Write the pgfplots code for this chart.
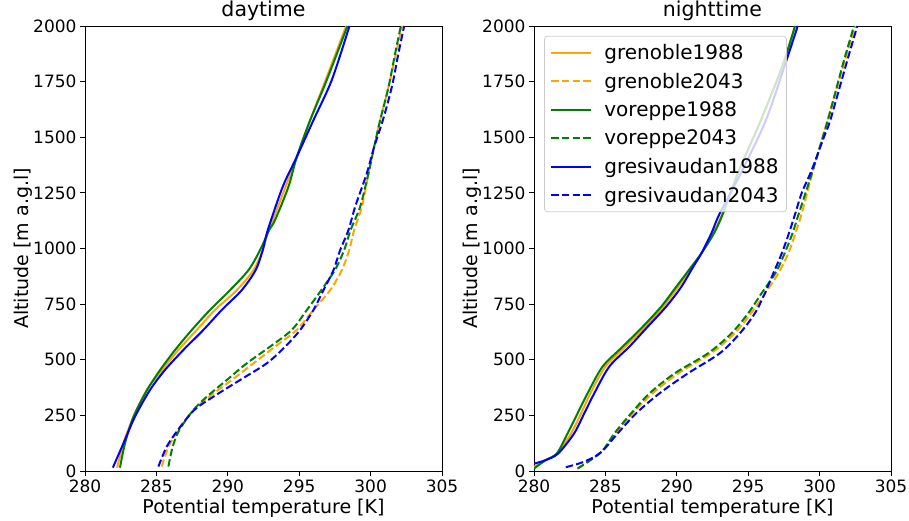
\documentclass[border=0pt]{standalone}
\usepackage{fontspec}
\setmainfont{DejaVu Sans}
\usepackage{pgfplots}
\pgfplotsset{compat=1.18}

\definecolor{mplorange}{RGB}{255,165,0}
\definecolor{mplgreen}{RGB}{0,128,0}
\definecolor{mplblue}{RGB}{0,0,255}

\pgfplotsset{
  profile/.style={
    scale only axis, width=357pt, height=445pt,
    xmin=280, xmax=305, ymin=0, ymax=2000,
    xtick={280,285,...,305}, ytick={0,250,...,2000},
    tick pos=left, tick align=outside, major tick length=5pt,
    every tick/.style={black, line width=0.8pt},
    axis line style={black, line width=0.8pt},
    /pgf/number format/set thousands separator={},
    /pgf/number format/assume math mode=true,
    ticklabel style={font=\fontsize{17}{20}\selectfont},
    label style={font=\fontsize{19}{22}\selectfont},
    title style={font=\fontsize{20.5}{24}\selectfont, yshift=-4pt},
    xlabel={Potential temperature [K]},
    ylabel={Altitude [m a.g.l]},
    ylabel shift=-6pt,
    every axis plot/.append style={line width=2pt, smooth, tension=0.5},
    legend image code/.code={\draw[#1] (0pt,0pt) -- (40pt,0pt);},
  },
  dsh/.style={dash pattern=on 7.4pt off 3.2pt},
}

\begin{document}
\begin{tikzpicture}
\useasboundingbox (-85pt,-50pt) rectangle (824pt,471pt);

% daytime
\begin{axis}[profile, title={daytime}]
\addplot[mplorange] coordinates {
  (282.25,15) (282.69,124) (283.39,244) (284.32,364) (285.4,454)
  (286.54,544) (287.83,634) (289.11,724) (290.63,813) (291.8,903)
  (292.45,993) (292.85,1083) (293.15,1128) (294.05,1278) (294.84,1413)
  (295.77,1577) (296.85,1757) (298.29,2000)};
\addplot[mplorange, dsh] coordinates {
  (285.37,20) (285.85,109) (286.54,184) (287.59,274) (288.7,334)
  (290.28,409) (291.8,484) (293.31,559) (294.83,634) (296.0,724)
  (297.17,813) (297.99,903) (298.5,993) (298.85,1083) (299.39,1188)
  (299.85,1337) (300.25,1457) (300.67,1577) (301.26,1727) (301.78,1877)
  (302.2,2000)};
\addplot[mplgreen] coordinates {
  (282.45,15) (282.8,124) (283.4,244) (284.35,364) (285.26,454)
  (286.31,544) (287.48,634) (288.76,724) (290.16,813) (291.45,903)
  (292.26,993) (292.9,1083) (293.31,1128) (294.25,1278) (294.84,1413)
  (295.77,1577) (296.93,1757) (298.38,2000)};
\addplot[mplgreen, dsh] coordinates {
  (285.84,20) (286.14,109) (286.6,184) (287.59,274) (288.53,334)
  (289.93,409) (291.33,484) (292.96,559) (294.48,634) (295.54,724)
  (296.55,813) (297.5,903) (298.15,993) (298.6,1083) (299.27,1188)
  (299.85,1337) (300.25,1457) (300.67,1577) (301.26,1727) (301.72,1877)
  (302.12,2000)};
\addplot[mplblue] coordinates {
  (281.95,15) (282.69,124) (283.5,244) (284.55,364) (285.6,454)
  (286.89,544) (288.29,634) (289.58,724) (290.98,813) (291.95,903)
  (292.45,993) (292.8,1083) (293.85,1278) (294.84,1413)
  (296.0,1577) (297.28,1757) (298.52,2000)};
\addplot[mplblue, dsh] coordinates {
  (285.14,20) (285.72,109) (286.5,184) (287.65,274) (288.99,334)
  (290.86,409) (292.73,484) (294.02,559) (295.07,634) (296.0,724)
  (296.7,813) (297.4,903) (297.87,993) (298.45,1083) (298.92,1188)
  (299.73,1337) (300.25,1457) (300.86,1577) (301.49,1727) (301.95,1877)
  (302.35,2000)};
\end{axis}

% nighttime
\begin{axis}[profile, title={nighttime}, at={(449pt,0pt)},
  legend cell align=left,
  legend style={at={(0.028,0.978)}, anchor=north west,
    draw={rgb,255:red,204;green,204;blue,204}, line width=0.8pt,
    rounded corners=3pt, fill=white, fill opacity=0.8, text opacity=1,
    font=\fontsize{20}{23}\selectfont, row sep=8pt,
    inner xsep=6pt, inner ysep=6pt,
    /tikz/every odd column/.append style={column sep=10pt}},
  legend entries={grenoble1988, grenoble2043, voreppe1988, voreppe2043,
    gresivaudan1988, gresivaudan2043}]
\addplot[mplorange] coordinates {
  (280.0,18) (280.82,49) (281.62,79) (282.6,169) (283.3,259) (283.95,349)
  (285.0,469) (286.4,559) (287.8,649) (289.05,739) (290.1,828)
  (291.1,918) (291.72,978) (292.55,1068) (293.2,1158) (294.37,1353)
  (295.89,1577) (297.4,1817) (298.28,2000)};
\addplot[mplorange, dsh] coordinates {
  (283.05,11) (284.69,84) (285.7,169) (286.9,259) (288.3,349) (290.1,439)
  (292.4,529) (294.05,619) (295.2,709) (296.2,799) (297.11,889)
  (297.81,978) (298.3,1068) (298.75,1158) (299.55,1353) (300.55,1577)
  (301.7,1830) (302.5,2000)};
\addplot[mplgreen] coordinates {
  (280.0,11) (280.82,49) (281.6,79) (282.35,169) (283.05,259) (283.75,349)
  (284.8,469) (286.21,559) (287.62,649) (288.91,739) (289.96,828)
  (291.02,918) (291.72,978) (292.6,1068) (293.24,1158) (294.37,1353)
  (295.89,1577) (297.37,1817) (298.28,2000)};
\addplot[mplgreen, dsh] coordinates {
  (283.05,11) (284.69,84) (285.63,169) (286.8,259) (288.09,349)
  (289.85,439) (292.19,529) (293.83,619) (295.0,709) (295.94,799)
  (296.9,889) (297.55,978) (298.1,1068) (298.55,1158) (299.53,1353)
  (300.58,1577) (301.64,1830) (302.41,2000)};
\addplot[mplblue] coordinates {
  (280.0,33) (280.82,49) (281.7,79) (282.81,169) (283.52,259) (284.22,349)
  (285.27,469) (286.68,559) (287.97,649) (289.26,739) (290.32,828)
  (291.15,918) (291.72,978) (292.42,1068) (293.01,1158) (294.6,1353)
  (296.24,1577) (297.53,1817) (298.47,2000)};
\addplot[mplblue, dsh] coordinates {
  (282.23,17) (283.52,42) (284.69,84) (285.86,169) (287.15,259)
  (288.79,349) (290.78,439) (293.01,529) (294.42,619) (295.47,709)
  (296.17,799) (296.76,889) (297.35,978) (297.85,1068) (298.3,1158)
  (298.75,1250) (299.45,1353) (300.3,1500) (300.75,1577) (301.87,1830)
  (302.64,2000)};
\end{axis}
\end{tikzpicture}
\end{document}
